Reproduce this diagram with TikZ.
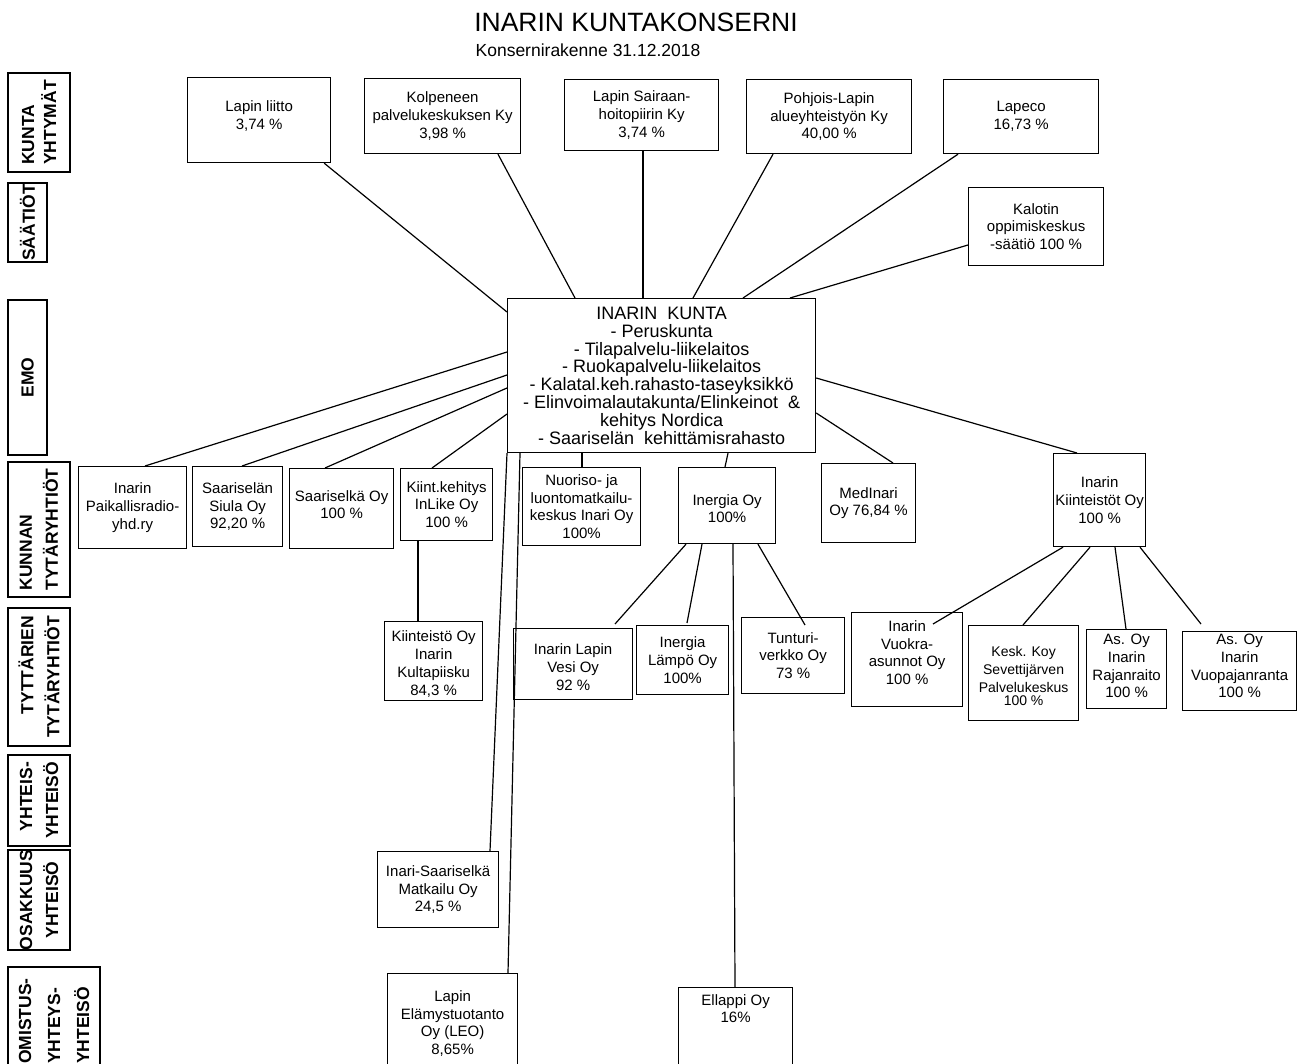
\documentclass[tikz,border=0pt]{standalone}
\usepackage{fontspec}
\setmainfont{Liberation Sans}
\begin{document}
\begin{tikzpicture}[x=1pt,y=-1pt,
  box/.style={draw, line width=1.2pt, inner sep=0pt, anchor=north west},
  lbl/.style={align=center, inner sep=0pt, font=\fontsize{15}{17.8}\selectfont},
  side/.style={draw, line width=2.2pt, rotate=90, inner sep=0pt, font=\fontsize{17.5}{20}\selectfont\bfseries},
  con/.style={line width=1.2pt}]
\useasboundingbox (0,0) rectangle (1302,1064);
\clip (0,0) rectangle (1302,1064);

% titles
\node[font=\fontsize{26.5}{30}\selectfont, inner sep=0pt] (title) at (636,22) {INARIN KUNTAKONSERNI};
\node[font=\fontsize{17.5}{20}\selectfont, inner sep=0pt] (sub) at (588,50) {Konsernirakenne 31.12.2018};

% side labels
\node[side, minimum width=99, minimum height=62, align=left] (s1) at (39,122.5) {KUNTA\\[2pt]YHTYMÄT};
\node[side, minimum width=79, minimum height=39] (s2) at (27.5,222.5) {SÄÄTIÖT};
\node[side, minimum width=155, minimum height=39] (s3) at (27.5,377.5) {EMO};
\node[side, minimum width=135, minimum height=62, align=left] (s4) at (39,529.5) {KUNNAN\\[6pt]TYTÄRYHTIÖT};
\node[side, minimum width=138, minimum height=62, align=right] (s5) at (39,677) {TYTTÄRIEN\\[6pt]TYTÄRYHTIÖT};
\node[side, minimum width=91, minimum height=62, align=right] (s6) at (39,800.5) {YHTEIS-\\[6pt]YHTEISÖ};
\node[side, minimum width=90, minimum height=62, align=center] (s7) at (39,900) {OSAKKUUS\\[6pt]YHTEISÖ};
\node[side, minimum width=108, minimum height=92, align=left] (s8) at (54,1021) {OMISTUS-\\[9pt]YHTEYS-\\[9pt]YHTEISÖ};

% kuntayhtymat
\node[box, minimum width=143, minimum height=85, label={[lbl,yshift=4]center:{Lapin liitto\\3,74 \%}}] (liitto) at (187,77) {};
\node[box, minimum width=156, minimum height=75, label={[lbl]center:{Kolpeneen\\palvelukeskuksen Ky\\3,98 \%}}] (kolp) at (364,78) {};
\node[box, minimum width=154, minimum height=71, label={[lbl]center:{Lapin Sairaan-\\hoitopiirin Ky\\3,74 \%}}] (sair) at (564,79) {};
\node[box, minimum width=165, minimum height=74, label={[lbl]center:{Pohjois-Lapin\\alueyhteistyön Ky\\40,00 \%}}] (pohj) at (746,79) {};
\node[box, minimum width=155, minimum height=74, label={[lbl]center:{Lapeco\\16,73 \%}}] (lapeco) at (943,79) {};
\node[box, minimum width=135, minimum height=78, label={[lbl]center:{Kalotin\\oppimiskeskus\\-säätiö 100 \%}}] (kalotin) at (968,187) {};

% emo
\node[box, minimum width=308, minimum height=154, label={[align=center, inner sep=0pt, font=\fontsize{18}{17.8}\selectfont]center:{INARIN\ \ KUNTA\\- Peruskunta\\- Tilapalvelu-liikelaitos\\- Ruokapalvelu-liikelaitos\\- Kalatal.keh.rahasto-taseyksikkö\\- Elinvoimalautakunta/Elinkeinot\ \ \&\\kehitys Nordica\\- Saariselän\ \ kehittämisrahasto}}] (emo) at (507,298) {};

% kunnan tytaryhtiot
\node[box, minimum width=108, minimum height=82, label={[lbl]center:{Inarin\\Paikallisradio-\\yhd.ry}}] (radio) at (78,466) {};
\node[box, minimum width=90, minimum height=80, label={[lbl]center:{Saariselän\\Siula Oy\\92,20 \%}}] (siula) at (192,466) {};
\node[box, minimum width=104, minimum height=80, label={[lbl,yshift=4]center:{Saariselkä Oy\\100 \%}}] (saroy) at (289,468) {};
\node[box, minimum width=92, minimum height=72, label={[lbl]center:{Kiint.kehitys\\InLike Oy\\100 \%}}] (inlike) at (400,468) {};
\node[box, minimum width=118, minimum height=78, label={[lbl]center:{Nuoriso- ja\\luontomatkailu-\\keskus Inari Oy\\100\%}}] (nuoriso) at (522,467) {};
\node[box, minimum width=97, minimum height=76, label={[lbl,yshift=-3]center:{Inergia Oy\\100\%}}] (inergia) at (678,467) {};
\node[box, minimum width=94, minimum height=79, label={[lbl]center:{MedInari\\Oy 76,84 \%}}] (medinari) at (821,463) {};
\node[box, minimum width=92, minimum height=93, label={[lbl]center:{Inarin\\Kiinteistöt Oy\\100 \%}}] (kiint) at (1053,453) {};

% tyttarien tytaryhtiot
\node[box, minimum width=98, minimum height=79, label={[lbl,yshift=-3]center:{Kiinteistö Oy\\Inarin\\Kultapiisku\\84,3 \%}}] (kulta) at (384,621) {};
\node[box, minimum width=119, minimum height=71, label={[lbl,yshift=-3]center:{Inarin Lapin\\Vesi Oy\\92 \%}}] (vesi) at (513,628) {};
\node[box, minimum width=92, minimum height=69, label={[lbl]center:{Inergia\\Lämpö Oy\\100\%}}] (lampo) at (636,625) {};
\node[box, minimum width=103, minimum height=76, label={[lbl]center:{Tunturi-\\verkko Oy\\73 \%}}] (tunturi) at (741,617) {};
\node[box, minimum width=111, minimum height=94, label={[lbl,yshift=7]center:{Inarin\\Vuokra-\\asunnot Oy\\100 \%}}] (vuokra) at (851,612) {};
\node[box, minimum width=110, minimum height=95, label={[lbl,yshift=-3,font=\fontsize{14}{17.8}\selectfont]center:{Kesk. Koy\\Sevettijärven\\Palvelukeskus\\[-5pt]100 \%}}] (kesk) at (968,625) {};
\node[box, minimum width=80, minimum height=79, label={[lbl,yshift=3]center:{As. Oy\\Inarin\\Rajanraito\\100 \%}}] (raja) at (1086,629) {};
\node[box, minimum width=114, minimum height=79, label={[lbl,yshift=5]center:{As. Oy\\Inarin\\Vuopajanranta\\100 \%}}] (vuopa) at (1182,631) {};

% lower
\node[box, minimum width=121, minimum height=76, label={[lbl]center:{Inari-Saariselkä\\Matkailu Oy\\24,5 \%}}] (matka) at (377,851) {};
\node[box, minimum width=130, minimum height=110, label={[lbl,yshift=5]center:{Lapin\\Elämystuotanto\\Oy (LEO)\\8,65\%}}] (leo) at (387,973) {};
\node[box, minimum width=114, minimum height=100, label={[lbl,yshift=29]center:{Ellappi Oy\\16\%}}] (ellappi) at (678,987) {};

% connectors to emo from top
\draw[con] ([xshift=-7]liitto.south east) -- ([yshift=-14]emo.north west);
\draw[con] ([xshift=134]kolp.south west) -- ([xshift=68]emo.north west);
\draw[con] ([xshift=79]sair.south west) -- ([xshift=136]emo.north west);
\draw[con] ([xshift=27]pohj.south west) -- ([xshift=186]emo.north west);
\draw[con] ([xshift=15]lapeco.south west) -- ([xshift=236]emo.north west);
\draw[con] ([yshift=-58]kalotin.north west) -- ([xshift=283]emo.north west);

% emo to subsidiaries
\draw[con] ([yshift=-54]emo.north west) -- ([xshift=67]radio.north west);
\draw[con] ([yshift=-77]emo.north west) -- ([xshift=50]siula.north west);
\draw[con] ([yshift=-90]emo.north west) -- ([xshift=36]saroy.north west);
\draw[con] ([yshift=-116]emo.north west) -- ([xshift=32]inlike.north west);
\draw[con] ([xshift=75]emo.south west) -- ([xshift=60]nuoriso.north west);
\draw[con] ([xshift=221]emo.south west) -- ([xshift=47]inergia.north west);
\draw[con] ([yshift=-115]emo.north east) -- ([xshift=72]medinari.north west);
\draw[con] ([yshift=-80]emo.north east) -- ([xshift=24]kiint.north west);
\draw[con] (emo.south west) -- ([xshift=113]matka.north west);
\draw[con] ([xshift=13]emo.south west) -- ([xshift=121]leo.north west);

% second level
\draw[con] ([xshift=18]inlike.south west) -- ([xshift=34]kulta.north west);
\draw[con] ([xshift=8]inergia.south west) -- ([xshift=102,yshift=4]vesi.north west);
\draw[con] ([xshift=24]inergia.south west) -- ([xshift=51,yshift=2]lampo.north west);
\draw[con] ([xshift=55]inergia.south west) -- ([xshift=57]ellappi.north west);
\draw[con] ([xshift=80]inergia.south west) -- ([xshift=64,yshift=-8]tunturi.north west);
\draw[con] ([xshift=10]kiint.south west) -- ([xshift=82,yshift=-12]vuokra.north west);
\draw[con] ([xshift=37]kiint.south west) -- ([xshift=55]kesk.north west);
\draw[con] ([xshift=62]kiint.south west) -- ([xshift=40]raja.north west);
\draw[con] ([xshift=87]kiint.south west) -- ([xshift=19,yshift=7]vuopa.north west);
\end{tikzpicture}
\end{document}
